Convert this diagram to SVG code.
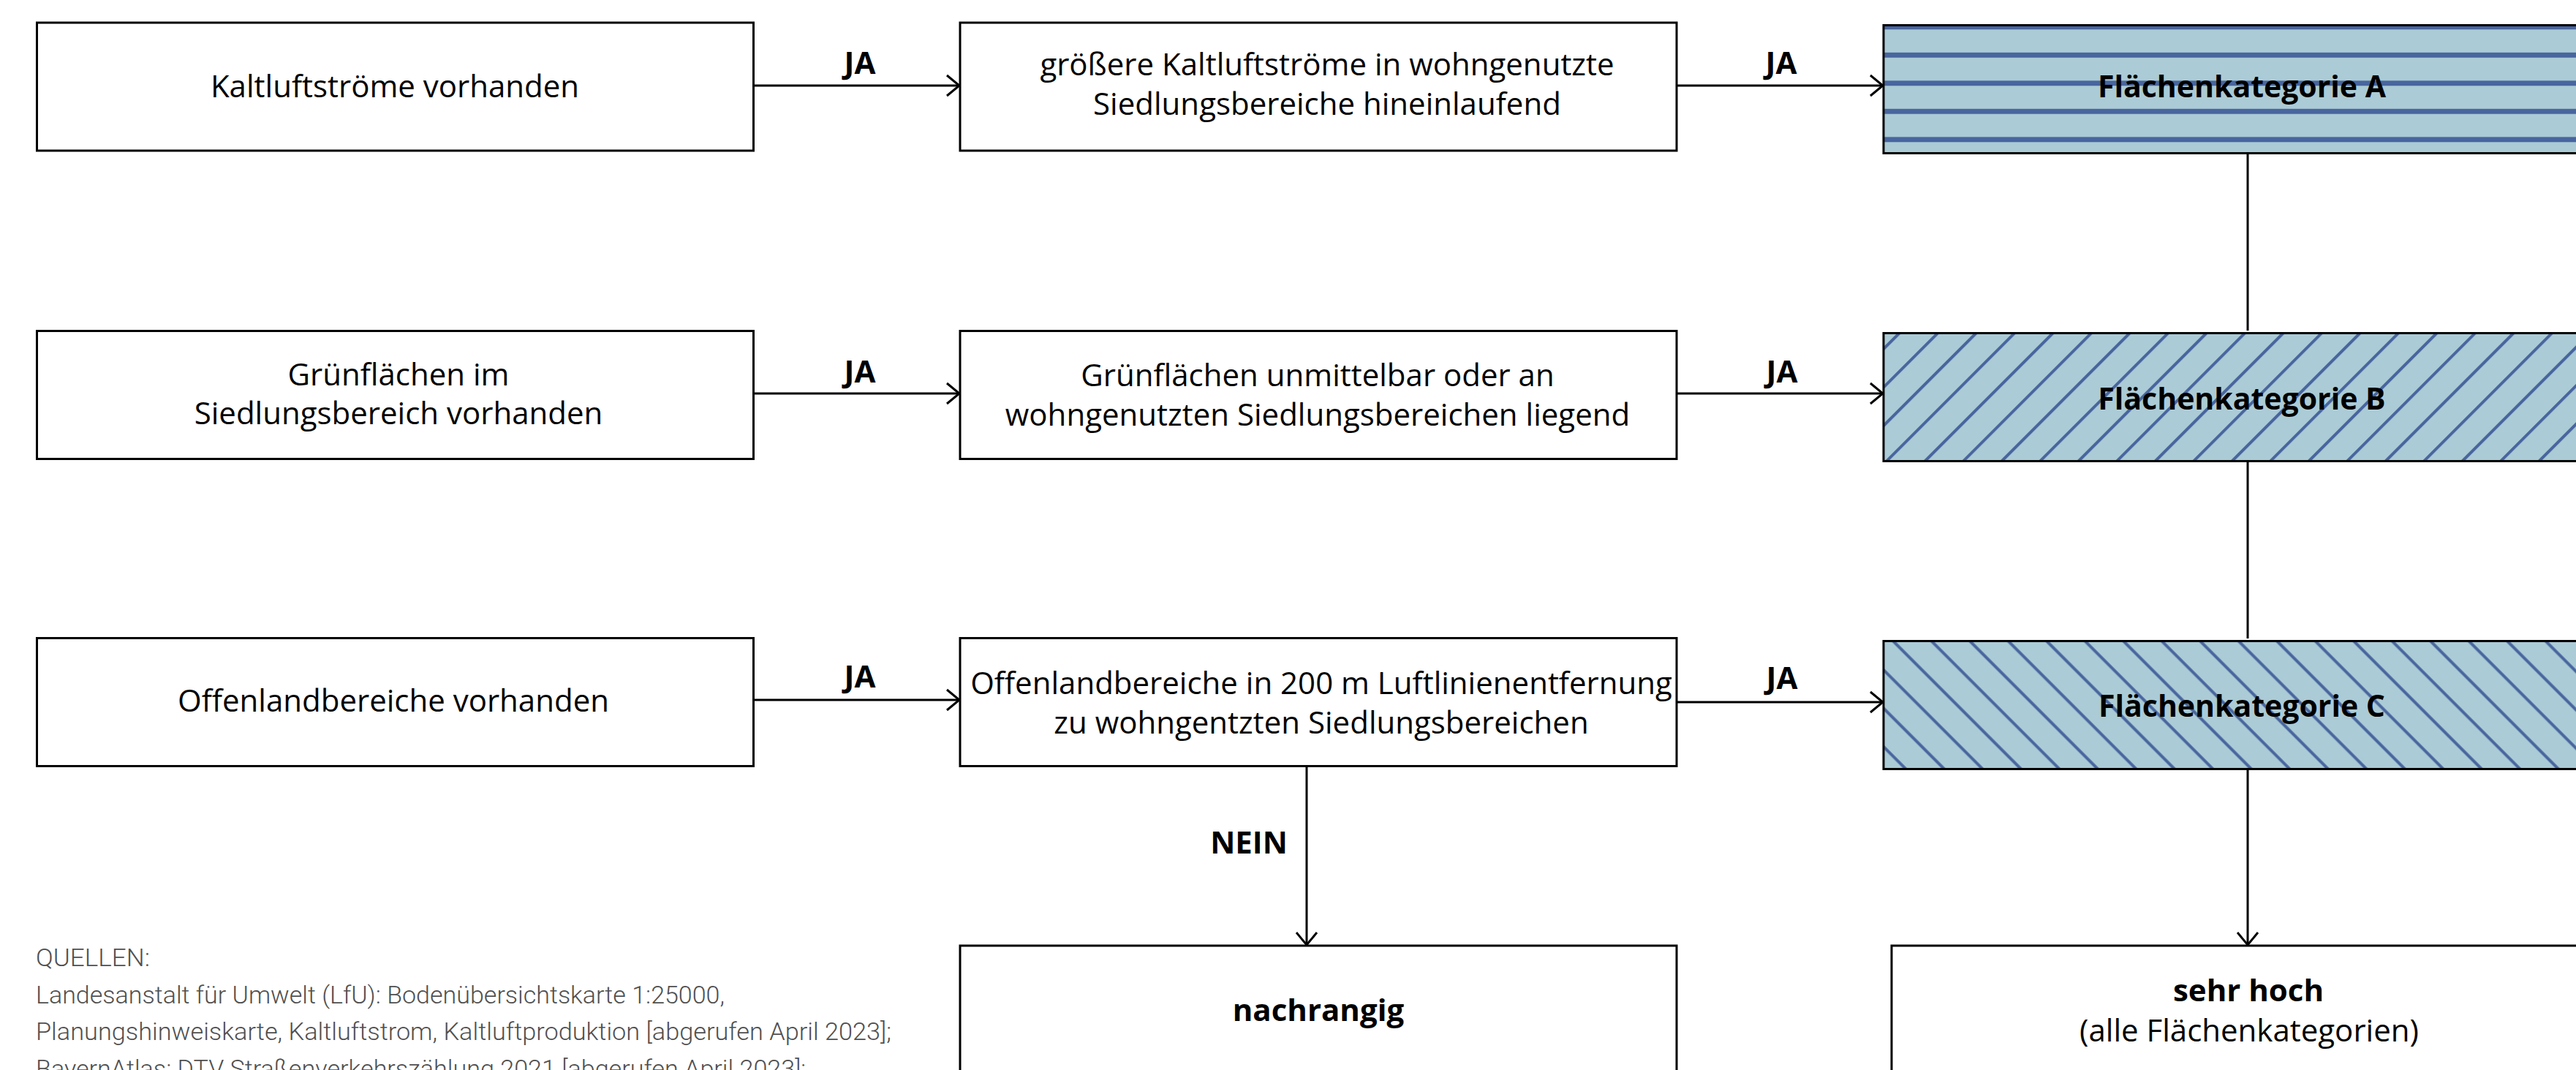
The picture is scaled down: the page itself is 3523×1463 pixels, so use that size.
<svg xmlns="http://www.w3.org/2000/svg" width="3523" height="1463" viewBox="0 0 3523 1463">
<style>
.box{fill:#fff;stroke:#000;stroke-width:3}
.cat{stroke:#000;stroke-width:3}
.t{font-family:"Open Sans","Noto Sans",sans-serif;font-size:42px;text-anchor:middle;fill:#000}
.b{font-weight:700}
.k{font-size:41px}
.src{font-family:Roboto,"Liberation Sans",sans-serif;font-weight:300;font-size:33px;fill:#505050}
.c{fill:none;stroke:#000;stroke-width:3}
</style>
<defs>
<marker id="arr" markerUnits="userSpaceOnUse" viewBox="-20 -16 24 32" refX="0" refY="0" markerWidth="24" markerHeight="32" orient="auto" overflow="visible">
<path d="M-17,-14 L0,0 L-17,14" fill="none" stroke="#000" stroke-width="3"/>
</marker>
<pattern id="pA" patternUnits="userSpaceOnUse" x="0" y="17.55" width="100" height="38.5">
<rect width="100" height="38.5" fill="#abcbd6"/>
<rect y="15.75" width="100" height="7" fill="#48659e"/>
</pattern>
<pattern id="pB" patternUnits="userSpaceOnUse" width="37.12" height="100" patternTransform="rotate(45)">
<rect width="37.12" height="100" fill="#abcbd6"/>
<rect x="3.94" width="4" height="100" fill="#48659e"/>
</pattern>
<pattern id="pC" patternUnits="userSpaceOnUse" width="37.12" height="100" patternTransform="rotate(-45)">
<rect width="37.12" height="100" fill="#abcbd6"/>
<rect x="21.1" width="4" height="100" fill="#48659e"/>
</pattern>
</defs>
<rect width="3523" height="1463" fill="#fff"/>

<g id="connectors">
<line class="c" x1="1031" y1="117" x2="1312" y2="117" marker-end="url(#arr)"/>
<line class="c" x1="2294" y1="117" x2="2575" y2="117" marker-end="url(#arr)"/>
<line class="c" x1="1031" y1="538" x2="1312" y2="538" marker-end="url(#arr)"/>
<line class="c" x1="2294" y1="538" x2="2575" y2="538" marker-end="url(#arr)"/>
<line class="c" x1="1031" y1="957" x2="1312" y2="957" marker-end="url(#arr)"/>
<line class="c" x1="2294" y1="960" x2="2575" y2="960" marker-end="url(#arr)"/>
<line class="c" x1="1787" y1="1048" x2="1787" y2="1292" marker-end="url(#arr)"/>
<line class="c" x1="3074" y1="210" x2="3074" y2="452"/>
<line class="c" x1="3074" y1="631" x2="3074" y2="873"/>
<line class="c" x1="3074" y1="1052" x2="3074" y2="1292" marker-end="url(#arr)"/>
<text class="t b" x="1176" y="101">JA</text>
<text class="t b" x="2436" y="101">JA</text>
<text class="t b" x="1176" y="523">JA</text>
<text class="t b" x="2437" y="523">JA</text>
<text class="t b" x="1176" y="940">JA</text>
<text class="t b" x="2437" y="942">JA</text>
<text class="t b" x="1708" y="1167">NEIN</text>
</g>

<g id="n1">
<rect class="box" x="50.5" y="31" width="980" height="175"/>
<text class="t" x="540" y="133">Kaltluftströme vorhanden</text>
</g>
<g id="n2">
<rect class="box" x="1313" y="31" width="980" height="175"/>
<text class="t" x="1815" y="103">größere Kaltluftströme in wohngenutzte</text>
<text class="t" x="1815" y="157">Siedlungsbereiche hineinlaufend</text>
</g>
<g id="catA">
<rect class="cat" x="2576" y="34.5" width="980" height="175" fill="url(#pA)"/>
<text class="t b k" x="3066" y="133">Flächenkategorie A</text>
</g>

<g id="n3">
<rect class="box" x="50.5" y="452.5" width="980" height="175"/>
<text class="t" x="545" y="527">Grünflächen im</text>
<text class="t" x="545" y="580">Siedlungsbereich vorhanden</text>
</g>
<g id="n4">
<rect class="box" x="1313" y="452.5" width="980" height="175"/>
<text class="t" x="1802" y="528">Grünflächen unmittelbar oder an</text>
<text class="t" x="1802" y="582">wohngenutzten Siedlungsbereichen liegend</text>
</g>
<g id="catB">
<rect class="cat" x="2576" y="455.5" width="980" height="175" fill="url(#pB)"/>
<text class="t b k" x="3066" y="560">Flächenkategorie B</text>
</g>

<g id="n5">
<rect class="box" x="50.5" y="872.5" width="980" height="175"/>
<text class="t" x="538" y="973">Offenlandbereiche vorhanden</text>
</g>
<g id="n6">
<rect class="box" x="1313" y="872.5" width="980" height="175"/>
<text class="t" x="1807" y="949">Offenlandbereiche in 200 m Luftlinienentfernung</text>
<text class="t" x="1807" y="1003">zu wohngentzten Siedlungsbereichen</text>
</g>
<g id="catC">
<rect class="cat" x="2576" y="876.5" width="980" height="175" fill="url(#pC)"/>
<text class="t b k" x="3066" y="980">Flächenkategorie C</text>
</g>

<g id="n7">
<rect class="box" x="1313" y="1293" width="980" height="300"/>
<text class="t b" x="1803" y="1396">nachrangig</text>
</g>
<g id="n8">
<rect class="box" x="2587" y="1293" width="976" height="300"/>
<text class="t b" x="3075" y="1369">sehr hoch</text>
<text class="t" x="3076" y="1424">(alle Flächenkategorien)</text>
</g>

<g id="sources">
<text class="src" x="49" y="1321" textLength="156" lengthAdjust="spacingAndGlyphs">QUELLEN:</text>
<text class="src" x="49" y="1372" textLength="942" lengthAdjust="spacingAndGlyphs">Landesanstalt für Umwelt (LfU): Bodenübersichtskarte 1:25000,</text>
<text class="src" x="49" y="1422" textLength="1170" lengthAdjust="spacingAndGlyphs">Planungshinweiskarte, Kaltluftstrom, Kaltluftproduktion [abgerufen April 2023];</text>
<text class="src" x="49" y="1473" textLength="1053" lengthAdjust="spacingAndGlyphs">BayernAtlas: DTV Straßenverkehrszählung 2021 [abgerufen April 2023];</text>
</g>
</svg>
